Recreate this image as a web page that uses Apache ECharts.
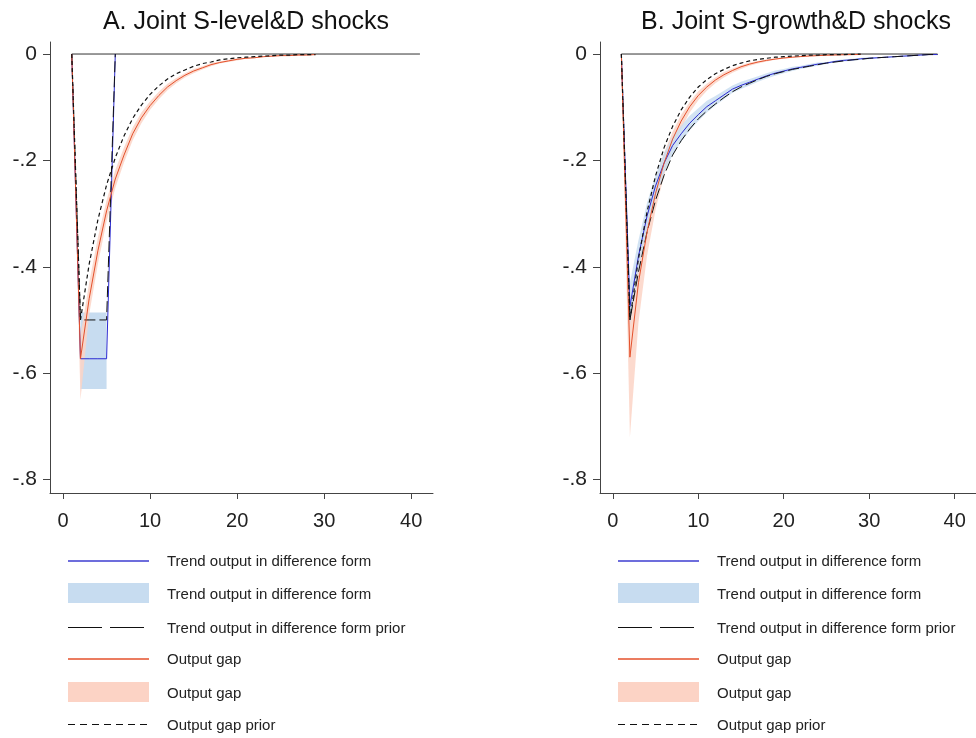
<!DOCTYPE html>
<html><head><meta charset="utf-8">
<script src="https://cdn.jsdelivr.net/npm/echarts@6/dist/echarts.min.js"></script>
<style>html,body{margin:0;padding:0;background:#fff}#c{width:976px;height:738px}</style>
</head><body><div id="c"></div>
<script>
// ---------- Data (period index starts at 1) ----------
const xTicks = [0, 10, 20, 30, 40];
const yTicks = [0, -0.2, -0.4, -0.6, -0.8];
const titles = ['A. Joint S-level&D shocks', 'B. Joint S-growth&D shocks'];
const legendNames = ['Trend output in difference form', 'Trend output in difference form',
  'Trend output in difference form prior', 'Output gap', 'Output gap', 'Output gap prior'];

// Panel A
const zeroA = { start: 1, end: 41 };
const trendA = [0, -0.573, -0.573, -0.573, -0.573, 0];
const trendPriorA = [0, -0.5, -0.5, -0.5, -0.5, 0];
const trendBandStartA = 2;
const trendBandLoA = [-0.63, -0.63, -0.63, -0.63];
const trendBandHiA = [-0.486, -0.486, -0.486, -0.486];
const gapA = [0, -0.573, -0.46, -0.37, -0.295, -0.235, -0.19, -0.15, -0.12, -0.097, -0.078, -0.062, -0.05, -0.04, -0.032, -0.026, -0.02, -0.016, -0.013, -0.01, -0.008, -0.007, -0.005, -0.004, -0.003, -0.003, -0.002, -0.002, -0.001];
const gapPriorA = [0, -0.5, -0.395, -0.312, -0.246, -0.195, -0.154, -0.121, -0.096, -0.076, -0.06, -0.047, -0.037, -0.03, -0.023, -0.018, -0.015, -0.011, -0.009, -0.007, -0.006, -0.005, -0.004, -0.003, -0.002, -0.002, -0.001, -0.001, -0.001];
const gapBandLoA = [0, -0.65, -0.49, -0.395, -0.315, -0.252, -0.204, -0.162, -0.13, -0.105, -0.085, -0.068, -0.055, -0.044, -0.036, -0.029, -0.023, -0.018, -0.015, -0.012, -0.009, -0.008, -0.006, -0.005, -0.004, -0.003, -0.003, -0.002, -0.002];
const gapBandHiA = [0, -0.53, -0.43, -0.345, -0.275, -0.218, -0.176, -0.138, -0.11, -0.089, -0.071, -0.056, -0.045, -0.036, -0.028, -0.023, -0.017, -0.014, -0.011, -0.008, -0.007, -0.006, -0.004, -0.003, -0.002, -0.002, -0.001, -0.001, -0.001];

// Panel B
const zeroB = { start: 1, end: 38 };
const trendB = [0, -0.475, -0.38, -0.305, -0.248, -0.205, -0.172, -0.15, -0.13, -0.114, -0.099, -0.088, -0.077, -0.066, -0.059, -0.053, -0.047, -0.041, -0.036, -0.032, -0.028, -0.025, -0.022, -0.019, -0.017, -0.014, -0.012, -0.011, -0.009, -0.008, -0.007, -0.006, -0.005, -0.004, -0.003, -0.002, -0.001, -0.001];
const trendPriorB = [0, -0.5, -0.41, -0.335, -0.275, -0.228, -0.19, -0.163, -0.141, -0.122, -0.107, -0.094, -0.082, -0.071, -0.062, -0.055, -0.048, -0.042, -0.037, -0.033, -0.029, -0.026, -0.023, -0.02, -0.017, -0.015, -0.013, -0.011, -0.01, -0.008, -0.007, -0.006, -0.005, -0.004, -0.003, -0.002, -0.001, -0.001];
const trendBandLoB = [0, -0.51, -0.405, -0.33, -0.27, -0.224, -0.189, -0.165, -0.144, -0.126, -0.11, -0.097, -0.085, -0.073, -0.066, -0.059, -0.052, -0.046, -0.041, -0.036, -0.032, -0.028, -0.025, -0.022, -0.019, -0.016, -0.014, -0.013, -0.011, -0.01, -0.008, -0.007, -0.006, -0.005, -0.004, -0.003, -0.002, -0.001];
const trendBandHiB = [0, -0.43, -0.35, -0.28, -0.228, -0.186, -0.155, -0.135, -0.116, -0.102, -0.088, -0.079, -0.069, -0.059, -0.052, -0.047, -0.042, -0.036, -0.031, -0.028, -0.024, -0.022, -0.019, -0.016, -0.015, -0.012, -0.01, -0.009, -0.007, -0.006, -0.006, -0.005, -0.004, -0.003, -0.002, -0.001, -0.0005, -0.0005];
const gapB = [0, -0.57, -0.43, -0.335, -0.262, -0.205, -0.16, -0.126, -0.099, -0.078, -0.062, -0.049, -0.039, -0.031, -0.024, -0.019, -0.015, -0.012, -0.0095, -0.0075, -0.006, -0.0047, -0.0037, -0.003, -0.0023, -0.0018, -0.0014, -0.0011, -0.0009];
const gapPriorB = [0, -0.5, -0.385, -0.297, -0.229, -0.176, -0.136, -0.105, -0.081, -0.062, -0.048, -0.037, -0.029, -0.022, -0.017, -0.013, -0.01, -0.008, -0.006, -0.005, -0.004, -0.003, -0.002, -0.002, -0.001, -0.001, -0.001, -0.0005, -0.0003];
const gapBandLoB = [0, -0.72, -0.505, -0.38, -0.293, -0.228, -0.177, -0.14, -0.11, -0.087, -0.069, -0.055, -0.044, -0.035, -0.028, -0.022, -0.018, -0.014, -0.011, -0.009, -0.007, -0.006, -0.0045, -0.0036, -0.003, -0.0023, -0.0018, -0.0014, -0.0011];
const gapBandHiB = [0, -0.49, -0.38, -0.3, -0.237, -0.186, -0.146, -0.114, -0.09, -0.07, -0.056, -0.044, -0.034, -0.027, -0.021, -0.016, -0.013, -0.01, -0.008, -0.006, -0.005, -0.004, -0.003, -0.0024, -0.0018, -0.0013, -0.001, -0.0008, -0.0007];

// ---------- Styles ----------
const C = {
  blue: '#2a2ad2', legendBlue: '#3c3cd0', blueBand: '#c7dcf0', red: '#e4502b', redBand: '#fcd3c5',
  black: '#111', axis: '#444', text: '#222'
};
const FONT = 'Liberation Sans, Arial, Helvetica, sans-serif';
const DASH_LONG = [11, 4];
const DASH_SHORT = [4, 3];

function pts(start, vals) { return vals.map((v, i) => [start + i, v]); }
function bandData(start, lo, hi) { return lo.map((v, i) => [start + i, v, hi[i]]); }

function lineSeries(idx, data, color, type, width, z) {
  return { type: 'line', xAxisIndex: idx, yAxisIndex: idx, data, symbol: 'none', showSymbol: false,
    silent: true, animation: false, z, lineStyle: { color, width, type } };
}
function bandSeries(idx, data, color, opacity, z) {
  return { type: 'custom', xAxisIndex: idx, yAxisIndex: idx, data, silent: true, animation: false, z,
    encode: { x: 0, y: [1, 2] },
    renderItem: function (params, api) {
      if (params.dataIndex !== 0) return null;
      const top = [], bot = [];
      for (const d of data) { top.push(api.coord([d[0], d[2]])); bot.push(api.coord([d[0], d[1]])); }
      return { type: 'polygon', shape: { points: top.concat(bot.reverse()) }, style: { fill: color, opacity } };
    } };
}

const Y_MIN = -0.8254, Y_MAX = 0.0226, X_MIN = -1.5, X_MAX = 42.5;
const grids = [
  { left: 50, top: 42, width: 383, height: 451 },
  { left: 600, top: 42, width: 383, height: 451 }
];
function fmtY(v) { return v === 0 ? '0' : String(Math.round(v * 10) / 10).replace('0.', '.'); }
const xAxes = grids.map((g, i) => ({
  type: 'value', gridIndex: i, min: X_MIN, max: X_MAX,
  axisLine: { show: true, onZero: false, lineStyle: { color: C.axis, width: 1 } },
  axisTick: { show: true, length: 6, customValues: xTicks, lineStyle: { color: C.axis } },
  axisLabel: { customValues: xTicks, color: C.text, fontSize: 20, fontFamily: FONT, margin: 18 },
  splitLine: { show: false }
}));
const yAxes = grids.map((g, i) => ({
  type: 'value', gridIndex: i, min: Y_MIN, max: Y_MAX,
  axisLine: { show: true, onZero: false, lineStyle: { color: C.axis, width: 1 } },
  axisTick: { show: true, length: 7, customValues: yTicks, lineStyle: { color: C.axis } },
  axisLabel: { customValues: yTicks, color: C.text, fontSize: 21, fontFamily: FONT, margin: 13, formatter: fmtY },
  splitLine: { show: false }
}));

const series = [];
// Panel A
series.push(bandSeries(0, bandData(trendBandStartA, trendBandLoA, trendBandHiA), C.blueBand, 1, 1));
series.push(bandSeries(0, bandData(1, gapBandLoA, gapBandHiA), C.redBand, 0.85, 2));
series.push(lineSeries(0, [[zeroA.start, 0], [zeroA.end, 0]], '#333', 'solid', 1, 3));
series.push(lineSeries(0, pts(1, trendA), C.blue, 'solid', 1, 4));
series.push(lineSeries(0, pts(1, trendPriorA), C.black, DASH_LONG, 1, 5));
series.push(lineSeries(0, pts(1, gapA), C.red, 'solid', 1, 6));
series.push(lineSeries(0, pts(1, gapPriorA), C.black, DASH_SHORT, 1.2, 7));
// Panel B
series.push(bandSeries(1, bandData(1, gapBandLoB, gapBandHiB), C.redBand, 0.85, 1));
series.push(bandSeries(1, bandData(1, trendBandLoB, trendBandHiB), C.blueBand, 0.8, 2));
series.push(lineSeries(1, [[zeroB.start, 0], [zeroB.end, 0]], '#333', 'solid', 1, 3));
series.push(lineSeries(1, pts(1, trendB), C.blue, 'solid', 1, 4));
series.push(lineSeries(1, pts(1, trendPriorB), C.black, DASH_LONG, 1, 5));
series.push(lineSeries(1, pts(1, gapB), C.red, 'solid', 1, 6));
series.push(lineSeries(1, pts(1, gapPriorB), C.black, DASH_SHORT, 1.2, 7));

// Legends (graphic) — coloured sample lines straddle two pixel rows like the reference
const rowsY = [561, 593.5, 627.5, 659, 692.5, 724.5];
const graphic = [];
[0, 550].forEach((ox, p) => {
  const x1 = 68 + ox, x2 = 149 + ox, tx = 167 + ox;
  const kinds = [
    { t: 'line', stroke: C.legendBlue, w: 1.3, dash: null },
    { t: 'rect', fill: C.blueBand },
    { t: 'line', stroke: C.black, w: 1, dash: [34, 8] },
    { t: 'line', stroke: C.red, w: 1.3, dash: null },
    { t: 'rect', fill: C.redBand },
    { t: 'line', stroke: C.black, w: 1, dash: [7, 5] }
  ];
  kinds.forEach((k, i) => {
    const y = rowsY[i];
    if (k.t === 'line') {
      const st = { stroke: k.stroke, lineWidth: k.w };
      if (k.dash) st.lineDash = k.dash;
      graphic.push({ type: 'line', id: 'll' + p + i, silent: true, z: 10,
        shape: { x1, y1: y, x2, y2: y }, style: st });
    } else {
      graphic.push({ type: 'rect', id: 'lr' + p + i, silent: true, z: 10,
        shape: { x: x1, y: Math.floor(y) - 10, width: x2 - x1, height: 20 }, style: { fill: k.fill } });
    }
    graphic.push({ type: 'text', id: 'lt' + p + i, silent: true, z: 10, x: tx, y: y + 1,
      style: { text: legendNames[i], fill: C.text, font: '15px ' + FONT, verticalAlign: 'middle' } });
  });
});

const chart = echarts.init(document.getElementById('c'), null, { renderer: 'canvas' });
chart.setOption({
  animation: false,
  backgroundColor: '#fff',
  title: [
    { text: titles[0], left: 241, top: 5, textAlign: 'center', textStyle: { fontSize: 25, fontWeight: 'normal', color: C.black, fontFamily: FONT } },
    { text: titles[1], left: 791, top: 5, textAlign: 'center', textStyle: { fontSize: 25, fontWeight: 'normal', color: C.black, fontFamily: FONT } }
  ],
  grid: grids,
  xAxis: xAxes,
  yAxis: yAxes,
  series,
  graphic
});
</script></body></html>
